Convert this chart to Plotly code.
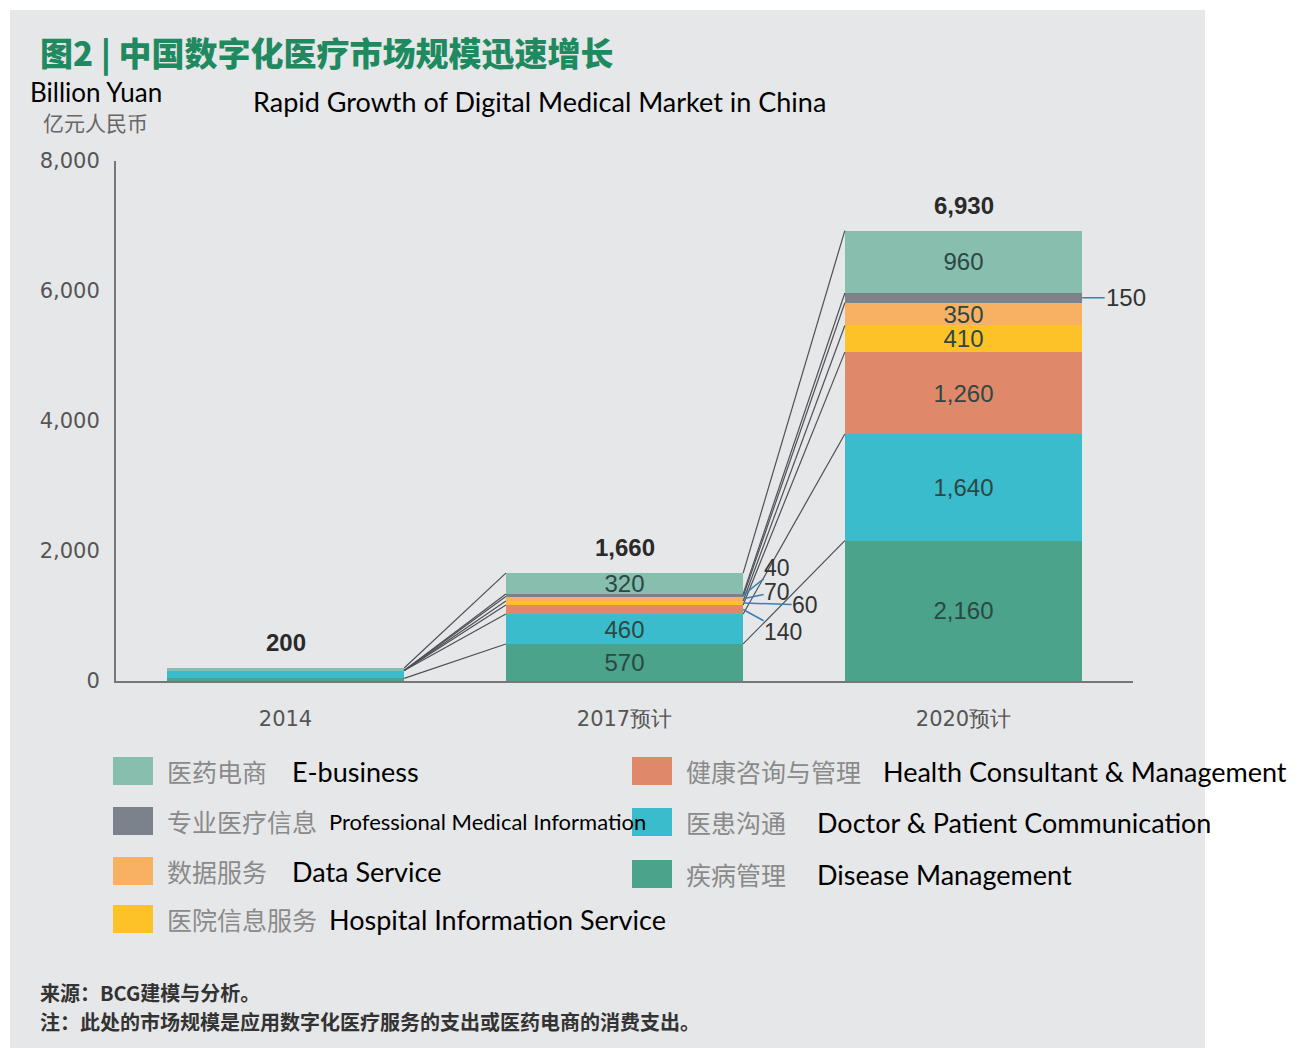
import plotly.graph_objects as go

W, H = 1307, 1048

# ---------------- data ----------------
categories = ["2014", "2017预计", "2020预计"]
series_cn = ["疾病管理", "医患沟通", "健康咨询与管理", "医院信息服务", "数据服务", "专业医疗信息", "医药电商"]
series_en = ["Disease Management", "Doctor & Patient Communication", "Health Consultant & Management",
             "Hospital Information Service", "Data Service", "Professional Medical Information", "E-business"]
disease_mgmt = [40, 570, 2160]
doctor_patient = [120, 460, 1640]
health_consult = [0, 140, 1260]
hospital_info = [0, 60, 410]
data_service = [0, 70, 350]
prof_info = [0, 40, 150]
e_business = [40, 320, 960]
totals = [200, 1660, 6930]
colors = ["#4aa38a", "#3abccc", "#e0896a", "#fcc228", "#f8b062", "#7c828c", "#87bead"]
y_ticks = [0, 2000, 4000, 6000, 8000]

series_vals = [disease_mgmt, doctor_patient, health_consult, hospital_info, data_service, prof_info, e_business]

# ---------------- helpers ----------------
def px(x):
    return x / W

def py(y):
    return 1 - y / H

X0, X1 = 116, 1133
Y0, Y1 = 161, 681
xs = [0, 1, 2]
bw = 0.7

fig = go.Figure()

# bars
for name, vals, col in zip(series_cn, series_vals, colors):
    txt = []
    for i, v in enumerate(vals):
        if i == 0 or v < 300:
            txt.append("")
        else:
            txt.append(f"{v:,}")
    fig.add_trace(go.Bar(
        x=xs, y=vals, width=bw, name=name, marker=dict(color=col, line=dict(width=0)),
        text=txt, textposition="inside", insidetextanchor="middle", constraintext="none",
        textangle=0, textfont=dict(family="Liberation Sans", size=24, color="#2c4844"),
        showlegend=False, hoverinfo="skip",
    ))

# connecting lines between stacks
def cumulative(idx):
    out, s = [], 0
    for vals in series_vals:
        s += vals[idx]
        out.append(s)
    return out

for a, b in [(0, 1), (1, 2)]:
    ca, cb = cumulative(a), cumulative(b)
    for va, vb in zip(ca, cb):
        fig.add_trace(go.Scatter(
            x=[xs[a] + bw / 2, xs[b] - bw / 2], y=[va, vb], mode="lines",
            line=dict(color="#4d5055", width=1.2), showlegend=False, hoverinfo="skip",
        ))

annotations = []

# totals
for i, t in enumerate(totals):
    annotations.append(dict(x=xs[i], y=t, xref="x", yref="y", text=f"<b>{t:,}</b>",
                            showarrow=False, yanchor="bottom", yshift=10,
                            font=dict(family="Liberation Sans", size=24, color="#2a2a2a")))

# callouts for small 2017 segments and 2020 professional info
c20 = cumulative(2)
callouts = [
    (1, 5, 34, -27),   # 40
    (1, 4, 34, -7),    # 70
    (1, 3, 62, 2),     # 60
    (1, 2, 40, 22),    # 140
]
for idx, k, ax, ay in callouts:
    cum = cumulative(idx)
    v = series_vals[k][idx]
    mid = cum[k] - v / 2
    annotations.append(dict(x=xs[idx] + bw / 2, y=mid, xref="x", yref="y", text=f"{v:,}",
                            showarrow=True, arrowhead=0, arrowwidth=1.5, arrowcolor="#3d7fae",
                            ax=ax, ay=ay, borderpad=0,
                            font=dict(family="Liberation Sans", size=23, color="#333333")))
v = prof_info[2]
annotations.append(dict(x=xs[2] + bw / 2, y=c20[5] - v / 2, xref="x", yref="y", text=f"{v:,}",
                        showarrow=True, arrowhead=0, arrowwidth=1.5, arrowcolor="#3d7fae",
                        ax=44, ay=0, font=dict(family="Liberation Sans", size=24, color="#333333")))

# titles
annotations.append(dict(x=px(38), y=py(52), xref="paper", yref="paper", xanchor="left", yanchor="middle",
                        text="图2 | 中国数字化医疗市场规模迅速增长", showarrow=False,
                        font=dict(family="Noto Sans CJK SC", size=33, color="#1f8a5f", weight=900)))
annotations.append(dict(x=px(29), y=py(92), xref="paper", yref="paper", xanchor="left", yanchor="middle",
                        text="Billion Yuan", showarrow=False, borderpad=0,
                        font=dict(family="Lato", size=26, color="#000000")))
annotations.append(dict(x=px(42), y=py(122), xref="paper", yref="paper", xanchor="left", yanchor="middle",
                        text="亿元人民币", showarrow=False, borderpad=0,
                        font=dict(family="Noto Sans CJK SC", size=21, color="#666666")))
annotations.append(dict(x=px(251), y=py(102), xref="paper", yref="paper", xanchor="left", yanchor="middle",
                        text="Rapid Growth of Digital Medical Market in China", showarrow=False,
                        font=dict(family="Lato", size=27, color="#000000")))

# footer
annotations.append(dict(x=px(38), y=py(992), xref="paper", yref="paper", xanchor="left", yanchor="middle",
                        text="来源：BCG建模与分析。", showarrow=False,
                        font=dict(family="Noto Sans CJK SC", size=20, color="#333333", weight=700)))
annotations.append(dict(x=px(38), y=py(1021), xref="paper", yref="paper", xanchor="left", yanchor="middle",
                        text="注：此处的市场规模是应用数字化医疗服务的支出或医药电商的消费支出。", showarrow=False,
                        font=dict(family="Noto Sans CJK SC", size=20, color="#333333", weight=700)))

shapes = []
# background panel
shapes.append(dict(type="rect", xref="paper", yref="paper", x0=px(10), x1=px(1205), y0=0, y1=py(10),
                   fillcolor="#e6e7e9", line=dict(width=0), layer="below"))

# custom legend: (series index, swatch x, center y, cn x, en x, en size)
legend_items = [
    (6, 113, 771, 165, 290, 27),
    (5, 113, 821, 165, 327, 22),
    (4, 113, 871, 165, 290, 27),
    (3, 113, 919, 165, 327, 27),
    (2, 632, 771, 684, 881, 27),
    (1, 632, 822, 684, 815, 27),
    (0, 632, 874, 684, 815, 27),
]
for k, sx, cy, cnx, enx, ens in legend_items:
    shapes.append(dict(type="rect", xref="paper", yref="paper", x0=px(sx), x1=px(sx + 40),
                       y0=py(cy + 14), y1=py(cy - 14), fillcolor=colors[k], line=dict(width=0)))
    annotations.append(dict(x=px(cnx), y=py(cy), xref="paper", yref="paper", xanchor="left", yanchor="middle",
                            text=series_cn[k], showarrow=False,
                            font=dict(family="Noto Sans CJK SC", size=25, color="#8a8a8a")))
    annotations.append(dict(x=px(enx), y=py(cy), xref="paper", yref="paper", xanchor="left", yanchor="middle",
                            text=series_en[k], showarrow=False,
                            font=dict(family="Lato", size=ens, color="#000000")))

fig.update_layout(
    width=W, height=H, margin=dict(l=0, r=0, t=0, b=0, pad=0, autoexpand=False),
    paper_bgcolor="#ffffff", plot_bgcolor="rgba(0,0,0,0)",
    barmode="stack", bargap=0.3,
    xaxis=dict(domain=[px(X0), px(X1)], range=[-0.5, 2.5], tickvals=xs, ticktext=categories,
               showgrid=False, zeroline=False, showline=True, linecolor="#777777", linewidth=2,
               ticks="", ticklabelstandoff=18, automargin=False,
               tickfont=dict(family="DejaVu Sans", size=21, color="#555555"), fixedrange=True),
    yaxis=dict(domain=[py(Y1), py(Y0)], range=[0, 8000], tickvals=y_ticks, tickformat=",",
               showgrid=False, zeroline=False, showline=True, linecolor="#777777", linewidth=2,
               ticks="", ticklabelstandoff=10, automargin=False,
               tickfont=dict(family="DejaVu Sans", size=21, color="#555555"), fixedrange=True),
    annotations=annotations, shapes=shapes,
)

fig.write_html("out.html")
